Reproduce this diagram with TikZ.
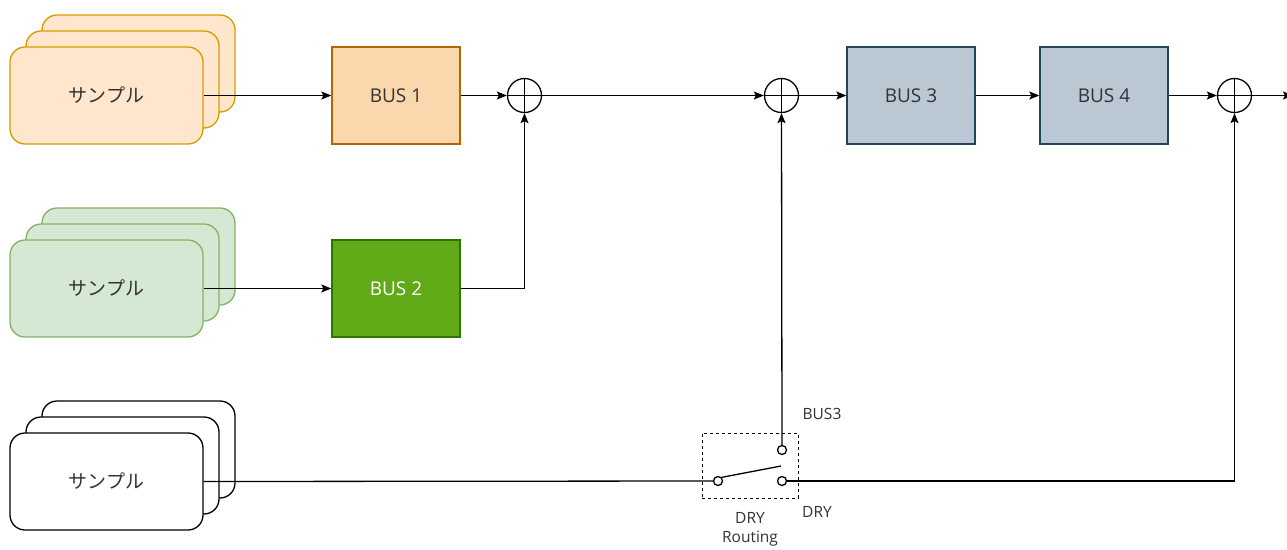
\documentclass[tikz,border=0pt]{standalone}
\usepackage{fontspec}
\setmainfont{Open Sans}
\newfontfamily\jpfont{Noto Sans CJK JP}
\usepackage{xcolor}
\usepackage{tikz}
\usetikzlibrary{arrows.meta, positioning}
\definecolor{smporange}{HTML}{FFE6CC}
\definecolor{smporangeline}{HTML}{D79B00}
\definecolor{busorange}{HTML}{FAD7AC}
\definecolor{busorangeline}{HTML}{B46504}
\definecolor{smpgreen}{HTML}{D5E8D4}
\definecolor{smpgreenline}{HTML}{82B366}
\definecolor{busgreen}{HTML}{60A917}
\definecolor{busgreenline}{HTML}{2D7600}
\definecolor{busgrey}{HTML}{BAC8D3}
\definecolor{busgreyline}{HTML}{23445D}
\definecolor{txtgrey}{HTML}{333333}

\begin{document}
\begin{tikzpicture}[
  x=1pt, y=-1pt,
  sample/.style={rectangle, rounded corners=15pt, draw, line width=1.3pt,
                 minimum width=193pt, minimum height=97pt,
                 text centered, font=\jpfont\fontsize{19}{22}\selectfont, text=txtgrey},
  bus/.style={rectangle, draw, line width=1.3pt,
              minimum width=128pt, minimum height=97pt,
              text centered, font=\fontsize{19}{22}\selectfont, text=txtgrey},
  sum/.style={circle, draw, line width=1.3pt, minimum size=34pt, inner sep=0pt,
              path picture={\draw[line width=1.3pt]
                (path picture bounding box.north) -- (path picture bounding box.south)
                (path picture bounding box.west) -- (path picture bounding box.east);}},
  term/.style={circle, draw, line width=1.3pt, minimum size=9pt, inner sep=0pt, fill=white},
  lbl/.style={font=\fontsize{15.5}{19}\selectfont, text=txtgrey},
  arrow/.style={-{Stealth[length=10pt, width=8pt, inset=2pt]}, line width=1.3pt},
  wire/.style={line width=1.3pt}
]
\useasboundingbox (0,0) rectangle (1287,549);

% orange samples
\node[sample, fill=smporange, draw=smporangeline] (smp1c) at (138.5,63.5) {};
\node[sample, fill=smporange, draw=smporangeline] (smp1b) at (122.5,79.5) {};
\node[sample, fill=smporange, draw=smporangeline] (smp1)  at (106.5,95.5) {サンプル};

% green samples
\node[sample, fill=smpgreen, draw=smpgreenline] (smp2c) at (138.5,256.5) {};
\node[sample, fill=smpgreen, draw=smpgreenline] (smp2b) at (122.5,272.5) {};
\node[sample, fill=smpgreen, draw=smpgreenline] (smp2)  at (106.5,288.5) {サンプル};

% plain samples
\node[sample, fill=white, draw=black] (smp3c) at (138.5,449.5) {};
\node[sample, fill=white, draw=black] (smp3b) at (122.5,465.5) {};
\node[sample, fill=white, draw=black] (smp3)  at (106.5,481.5) {サンプル};

% buses
\node[bus, fill=busorange, draw=busorangeline] (bus1) at (396,95.5) {BUS 1};
\node[bus, fill=busgreen, draw=busgreenline, text=white] (bus2) at (396,288.5) {BUS 2};
\node[bus, fill=busgrey, draw=busgreyline] (bus3) at (911,95.5) {BUS 3};
\node[bus, fill=busgrey, draw=busgreyline] (bus4) at (1104,95.5) {BUS 4};

% sums
\node[sum] (sum1) at (524.5,95.5) {};
\node[sum] (sum2) at (781.5,95.5) {};
\node[sum] (sum3) at (1234.5,95.5) {};
\coordinate (out) at (1293,95.5);

% DRY routing switch
\node[rectangle, draw, dashed, line width=1pt, minimum width=96pt, minimum height=65pt]
  (sw) at (750,465.5) {};
\node[term] (swin)  at (718,481) {};
\node[term] (swdry) at (782,481) {};
\node[term] (swbus) at (782,450) {};
\coordinate (lever) at (781,466);
\node[lbl] (lblbus) at (822,414) {BUS3};
\node[lbl] (lbldry) at (817,512) {DRY};
\node[lbl, align=center] (lblrout) at (750,529) {DRY\\Routing};

% connections
\draw[arrow] (smp1.east) -- (bus1.west);
\draw[arrow] (bus1.east) -- (sum1.west);
\draw[arrow] (smp2.east) -- (bus2.west);
\draw[arrow] (bus2.east) -| (sum1.south);
\draw[arrow] (sum1.east) -- (sum2.west);
\draw[arrow] (sum2.east) -- (bus3.west);
\draw[arrow] (bus3.east) -- (bus4.west);
\draw[arrow] (bus4.east) -- (sum3.west);
\draw[arrow] (sum3.east) -- (out);
\draw[wire] (smp3.east) -- (swin.west);
\draw[wire] (swin.north east) -- (lever);
\draw[arrow] (swbus.north) -- (sum2.south);
\draw[arrow] (swdry.east) -| (sum3.south);

\end{tikzpicture}
\end{document}
